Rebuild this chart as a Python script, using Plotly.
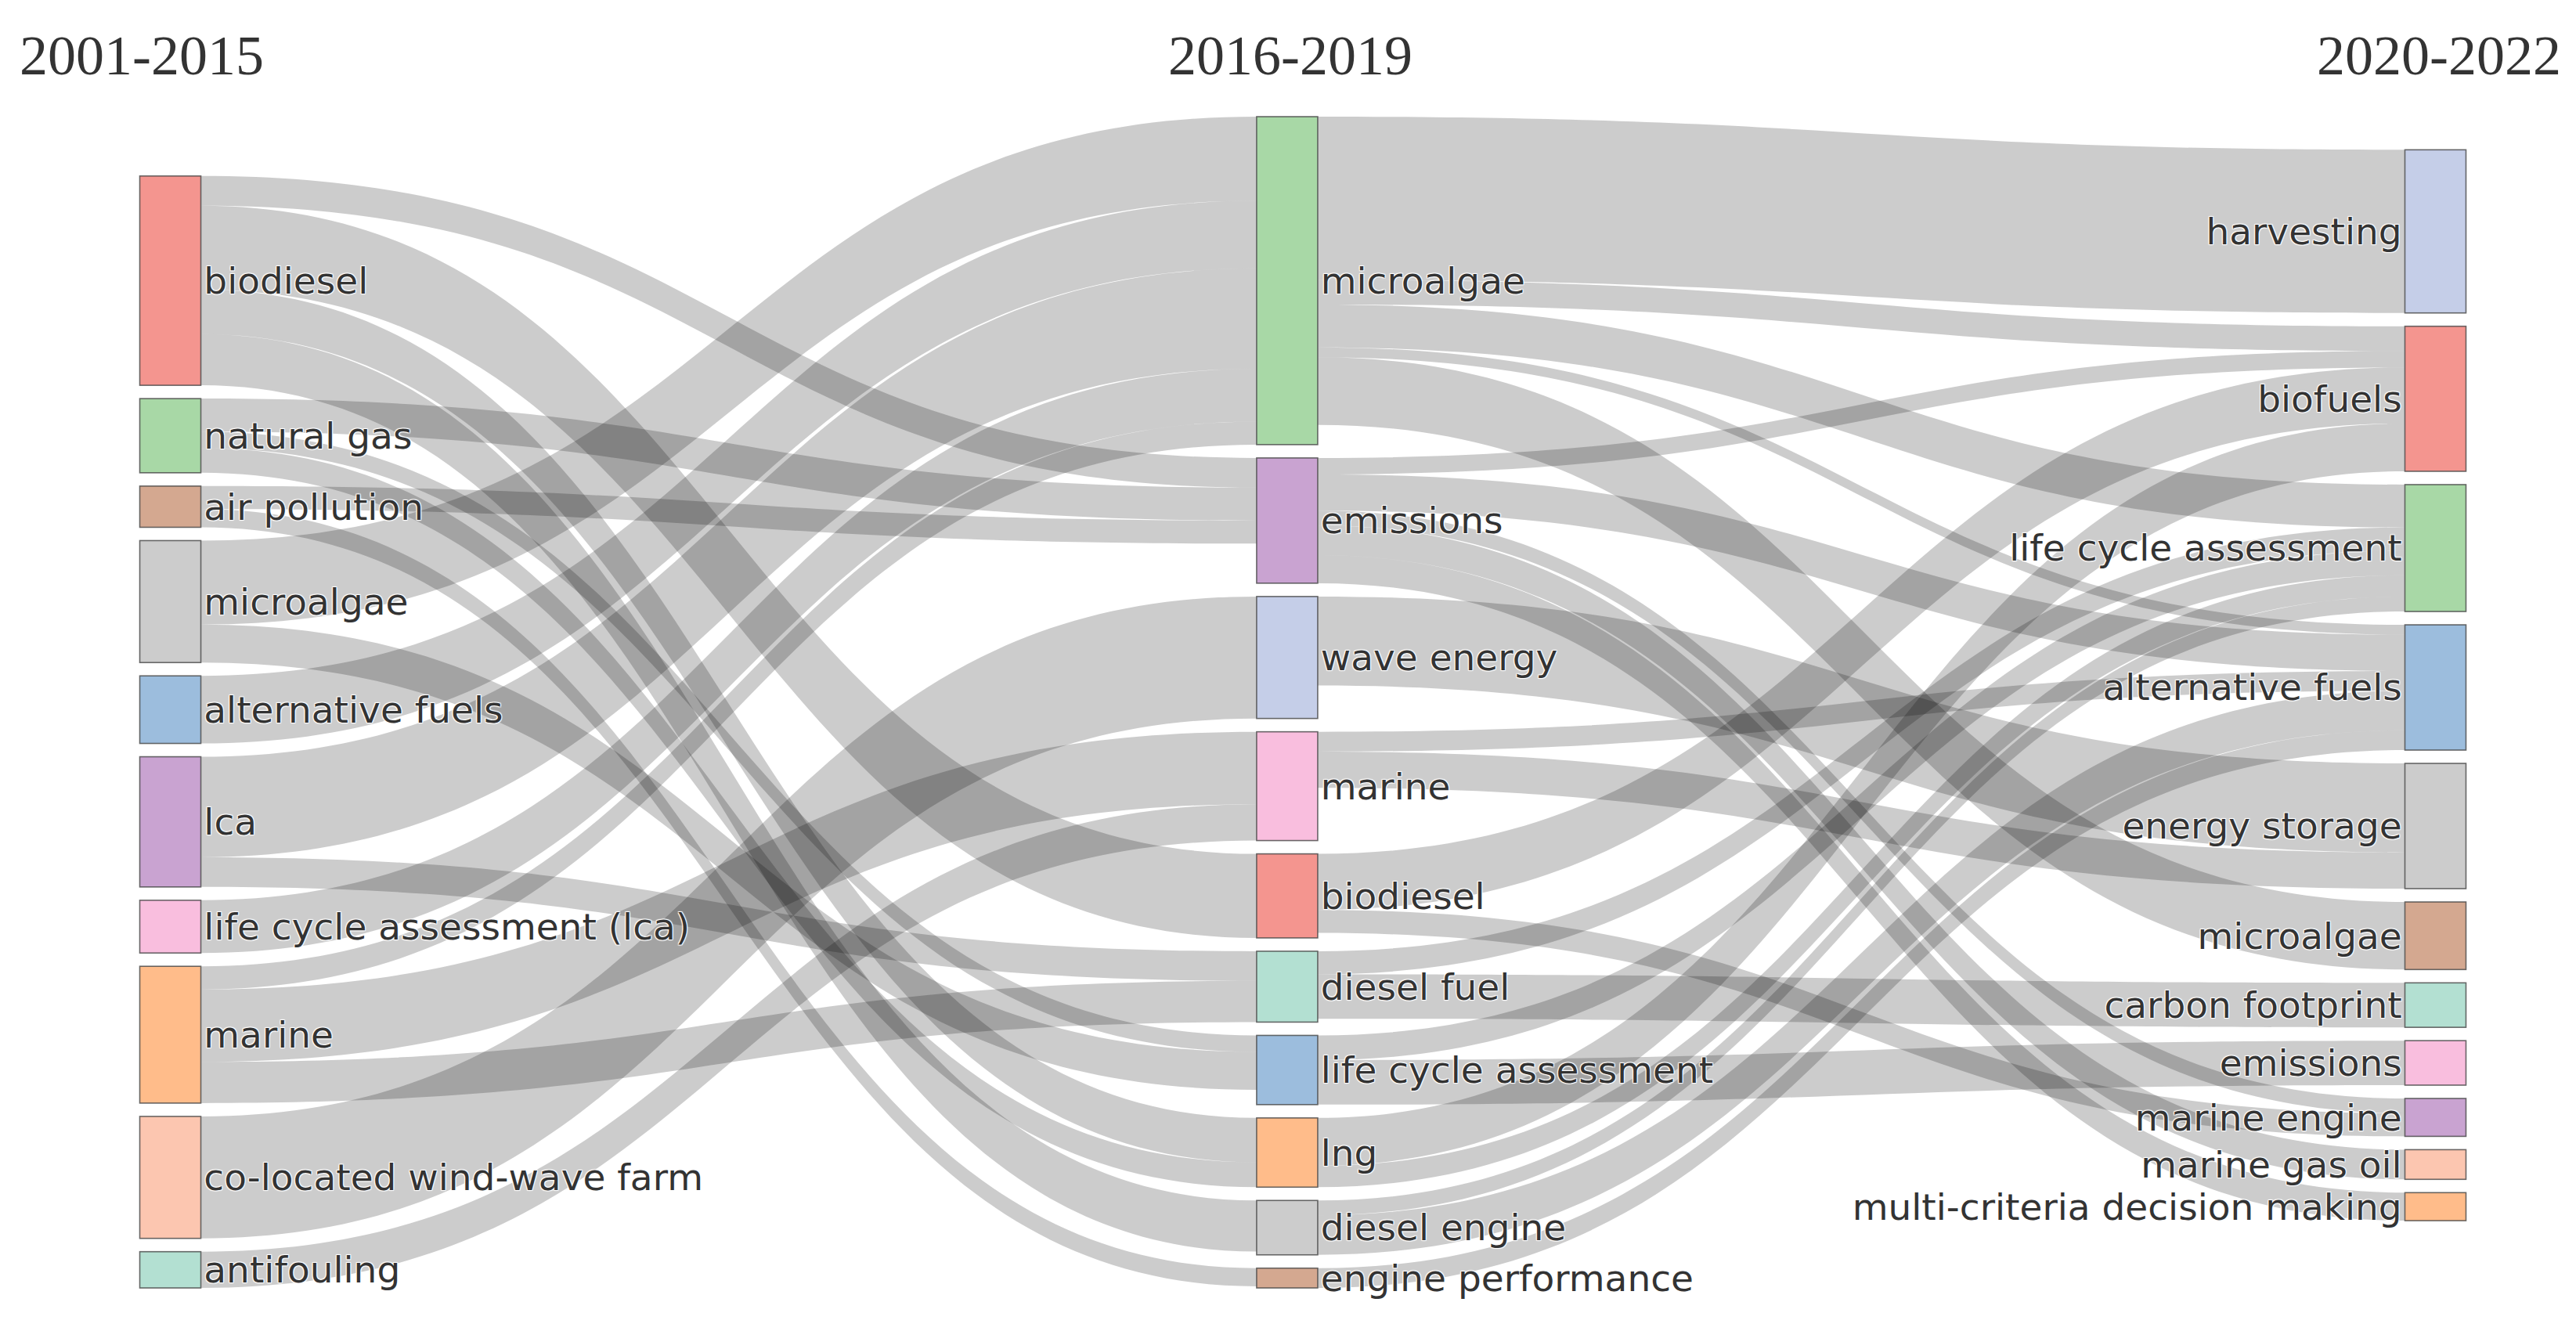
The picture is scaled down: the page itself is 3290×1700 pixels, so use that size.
import plotly.graph_objects as go

# ---------------- data ----------------
periods = ["2001-2015", "2016-2019", "2020-2022"]

p1_labels = ["biodiesel", "natural gas", "air pollution", "microalgae", "alternative fuels",
             "lca", "life cycle assessment (lca)", "marine", "co-located wind-wave farm", "antifouling"]
p2_labels = ["microalgae", "emissions", "wave energy", "marine", "biodiesel", "diesel fuel",
             "life cycle assessment", "lng", "diesel engine", "engine performance"]
p3_labels = ["harvesting", "biofuels", "life cycle assessment", "alternative fuels", "energy storage",
             "microalgae", "carbon footprint", "emissions", "marine engine", "marine gas oil",
             "multi-criteria decision making"]

# links 2001-2015 -> 2016-2019
s12_source = ["biodiesel", "biodiesel", "biodiesel", "biodiesel",
              "natural gas", "natural gas", "natural gas",
              "air pollution", "air pollution",
              "microalgae", "microalgae",
              "alternative fuels",
              "lca", "lca",
              "life cycle assessment (lca)",
              "marine", "marine", "marine",
              "co-located wind-wave farm",
              "antifouling"]
s12_target = ["emissions", "biodiesel", "lng", "diesel engine",
              "emissions", "life cycle assessment", "lng",
              "emissions", "engine performance",
              "microalgae", "life cycle assessment",
              "microalgae",
              "microalgae", "diesel fuel",
              "microalgae",
              "microalgae", "marine", "diesel fuel",
              "wave energy",
              "marine"]
s12_value = [18, 51, 27, 31,
             20, 10, 15,
             14, 11,
             51, 23,
             41,
             61, 18,
             32,
             14, 44, 25,
             74,
             22]

# links 2016-2019 -> 2020-2022
s23_source = ["microalgae", "microalgae", "microalgae", "microalgae", "microalgae",
              "emissions", "emissions", "emissions", "emissions", "emissions",
              "wave energy",
              "marine", "marine",
              "biodiesel", "biodiesel",
              "diesel fuel", "diesel fuel",
              "life cycle assessment", "life cycle assessment",
              "lng", "lng",
              "diesel engine", "diesel engine",
              "engine performance"]
s23_target = ["harvesting", "biofuels", "life cycle assessment", "alternative fuels", "microalgae",
              "biofuels", "alternative fuels", "marine engine", "marine gas oil", "multi-criteria decision making",
              "energy storage",
              "alternative fuels", "energy storage",
              "biofuels", "marine engine",
              "life cycle assessment", "carbon footprint",
              "life cycle assessment", "emissions",
              "biofuels", "life cycle assessment",
              "life cycle assessment", "alternative fuels",
              "alternative fuels"]
s23_value = [99, 15, 26, 6, 41,
             10, 22, 9, 18, 17,
             54,
             12, 22,
             34, 14,
             14, 27,
             15, 27,
             29, 13,
             9, 24,
             12]

# ---------------- styles ----------------
p1_colors = ["#f4958f", "#a8d8a6", "#d4a890", "#cccccc", "#9cbddd",
             "#c9a3d1", "#f9bede", "#ffbc8a", "#fcc6b0", "#b3e0d2"]
p2_colors = ["#a8d8a6", "#c9a3d1", "#c5cee8", "#f9bede", "#f4958f",
             "#b3e0d2", "#9cbddd", "#ffbc8a", "#cccccc", "#d4a890"]
p3_colors = ["#c5cee8", "#f4958f", "#a8d8a6", "#9cbddd", "#cccccc",
             "#d4a890", "#b3e0d2", "#f9bede", "#c9a3d1", "#fcc6b0", "#ffbc8a"]

FIG_W, FIG_H = 3290, 1700
M_L, M_R, M_T, M_B = 180, 158, 141, 63
PAD = 17
THICK = 78
plot_h = FIG_H - M_T - M_B
plot_w = FIG_W - M_L - M_R

# ---------------- build nodes ----------------
columns = [p1_labels, p2_labels, p3_labels]
col_colors = [p1_colors, p2_colors, p3_colors]
labels, colors, offsets = [], [], []
for ci, col in enumerate(columns):
    offsets.append(len(labels))
    labels += col
    colors += col_colors[ci]

def idx(col, name):
    return offsets[col] + columns[col].index(name)

src, tgt, val = [], [], []
for s, t, v in zip(s12_source, s12_target, s12_value):
    src.append(idx(0, s)); tgt.append(idx(1, t)); val.append(v)
for s, t, v in zip(s23_source, s23_target, s23_value):
    src.append(idx(1, s)); tgt.append(idx(2, t)); val.append(v)

n = len(labels)
inflow = [0] * n
outflow = [0] * n
for s, t, v in zip(src, tgt, val):
    outflow[s] += v
    inflow[t] += v
node_val = [max(a, b) for a, b in zip(inflow, outflow)]

# vertical stacking computed from the values (same scale rule as the library)
col_nodes = [list(range(offsets[c], offsets[c] + len(columns[c]))) for c in range(3)]
ky = min((plot_h - (len(cn) - 1) * PAD) / sum(node_val[i] for i in cn) for cn in col_nodes)
col_x = [0.01, 0.4932, 0.99]
slack_share = [1.0, 0.0, 0.33]   # bottom-aligned, top-aligned, upper third
node_x = [0.0] * n
node_y = [0.0] * n
for c, cn in enumerate(col_nodes):
    heights = [node_val[i] * ky for i in cn]
    total = sum(heights) + (len(cn) - 1) * PAD
    y = (plot_h - total) * slack_share[c]
    for i, h in zip(cn, heights):
        node_x[i] = col_x[c]
        node_y[i] = max((y + h / 2) / plot_h, 0.001)
        y += h + PAD

fig = go.Figure(go.Sankey(
    arrangement="fixed",
    node=dict(
        label=labels,
        color=colors,
        pad=PAD,
        thickness=THICK,
        x=node_x,
        y=node_y,
        line=dict(color="rgba(70,70,70,0.8)", width=1.6),
    ),
    link=dict(source=src, target=tgt, value=val, color="rgba(0,0,0,0.2)"),
    textfont=dict(family="DejaVu Sans", size=47, color="#333333"),
))

title_font = dict(family="Liberation Serif", size=72, color="#333333")
title_y = 1 + (M_T - 63) / plot_h
fig.add_annotation(text=periods[0], x=(15 - M_L) / plot_w, y=title_y, xref="paper", yref="paper",
                   xanchor="left", yanchor="middle", showarrow=False, font=title_font)
fig.add_annotation(text=periods[1], x=(1640 - M_L) / plot_w, y=title_y, xref="paper", yref="paper",
                   xanchor="center", yanchor="middle", showarrow=False, font=title_font)
fig.add_annotation(text=periods[2], x=(3265 - M_L) / plot_w, y=title_y, xref="paper", yref="paper",
                   xanchor="right", yanchor="middle", showarrow=False, font=title_font)

fig.update_layout(
    width=FIG_W, height=FIG_H,
    margin=dict(l=M_L, r=M_R, t=M_T, b=M_B),
    paper_bgcolor="white", plot_bgcolor="white",
    font=dict(family="DejaVu Sans"),
)
fig.write_html("out.html")
